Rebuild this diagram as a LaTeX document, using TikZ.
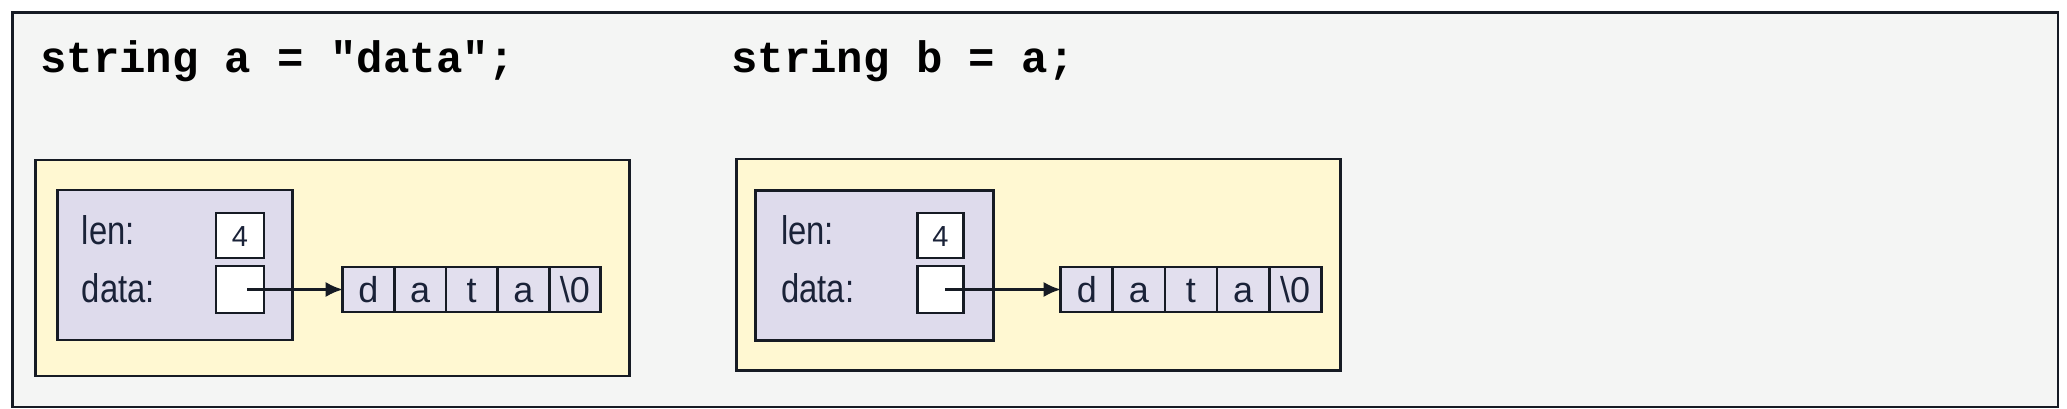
\documentclass[tikz,border=0pt]{standalone}
\usepackage{fontspec}
\setmainfont{Liberation Sans}
\newfontfamily\codefam{Liberation Mono}
\newfontfamily\labfam[FakeStretch=0.82]{Liberation Sans}
\usetikzlibrary{arrows.meta}
\definecolor{outerC}{HTML}{F4F5F4}
\definecolor{yelC}{HTML}{FFF8D2}
\definecolor{lavC}{HTML}{DEDBEC}
\definecolor{cellC}{HTML}{E2DFEE}
\definecolor{lineC}{HTML}{161B24}
\definecolor{textC}{HTML}{1A2238}
\tikzset{
  box/.style={draw=lineC, line width=2.8pt, inner sep=0pt, outer sep=0pt, anchor=north west},
  frame/.style={box, fill=outerC},
  ybox/.style={box, fill=yelC},
  lbox/.style={box, fill=lavC},
  vbox/.style={box, fill=white,
    text=textC, text height=21pt, text depth=0pt, font={\fontsize{29}{32}\selectfont}},
  cell/.style={box, fill=cellC,
    minimum height=45pt, text=textC, text height=26pt, text depth=0pt,
    font={\fontsize{36}{40}\selectfont}},
  lab/.style={anchor=base west, inner sep=0pt, text=textC, font={\labfam\fontsize{40}{44}\selectfont}},
  code/.style={anchor=base west, inner sep=0pt, text=black, font={\codefam\bfseries\fontsize{44}{48}\selectfont}},
  ptr/.style={draw=lineC, line width=2.2pt, -{Latex[length=17pt,width=15pt]}},
}
\begin{document}
\begin{tikzpicture}[x=1pt,y=-1pt]
\useasboundingbox (0,0) rectangle (2067,409);
\fill[white] (0,0) rectangle (2067,409);
\node[frame, minimum width=2045.5pt, minimum height=394.3pt] (outer) at (12.5,12.7) {};
% code lines
\node[code] (codeA) at (40,72.7) {string a = "data";};
\node[code] (codeB) at (731,72.7) {string b = a;};
% panel 1
\node[ybox, minimum width=594pt, minimum height=216pt] (y1) at (35.7,160) {};
\node[lbox, minimum width=235pt, minimum height=150pt] (l1) at (57.3,190) {};
\node[lab] (len1) at (81.7,244) {len:};
\node[lab] (dat1) at (81.7,302) {data:};
\node[vbox, minimum width=48pt, minimum height=45pt] (n1) at (216,213) {4};
\node[vbox, minimum width=48pt, minimum height=47pt] (d1) at (216,266) {};
\node[cell, minimum width=51.6pt] (c1a) at (342.7,267) {d};
\node[cell, minimum width=51.6pt] (c1b) at (c1a.north east) {a};
\node[cell, minimum width=51.6pt] (c1c) at (c1b.north east) {t};
\node[cell, minimum width=51.6pt] (c1d) at (c1c.north east) {a};
\node[cell, minimum width=51.6pt] (c1e) at (c1d.north east) {\textbackslash 0};
\draw[ptr] ([xshift=7pt]d1.center) -- (c1a.west);
% panel 2
\node[ybox, minimum width=604pt, minimum height=211.7pt] (y2) at (736.6,159) {};
\node[lbox, minimum width=238pt, minimum height=150pt] (l2) at (755.8,190.7) {};
\node[lab] (len2) at (781,244) {len:};
\node[lab] (dat2) at (781,302) {data:};
\node[vbox, minimum width=46pt, minimum height=45pt] (n2) at (917.4,213) {4};
\node[vbox, minimum width=46pt, minimum height=47pt] (d2) at (917.4,266) {};
\node[cell, minimum width=52.1pt] (c2a) at (1060.7,267) {d};
\node[cell, minimum width=52.1pt] (c2b) at (c2a.north east) {a};
\node[cell, minimum width=52.1pt] (c2c) at (c2b.north east) {t};
\node[cell, minimum width=52.1pt] (c2d) at (c2c.north east) {a};
\node[cell, minimum width=52.1pt] (c2e) at (c2d.north east) {\textbackslash 0};
\draw[ptr] ([xshift=5pt]d2.center) -- (c2a.west);
\end{tikzpicture}
\end{document}
